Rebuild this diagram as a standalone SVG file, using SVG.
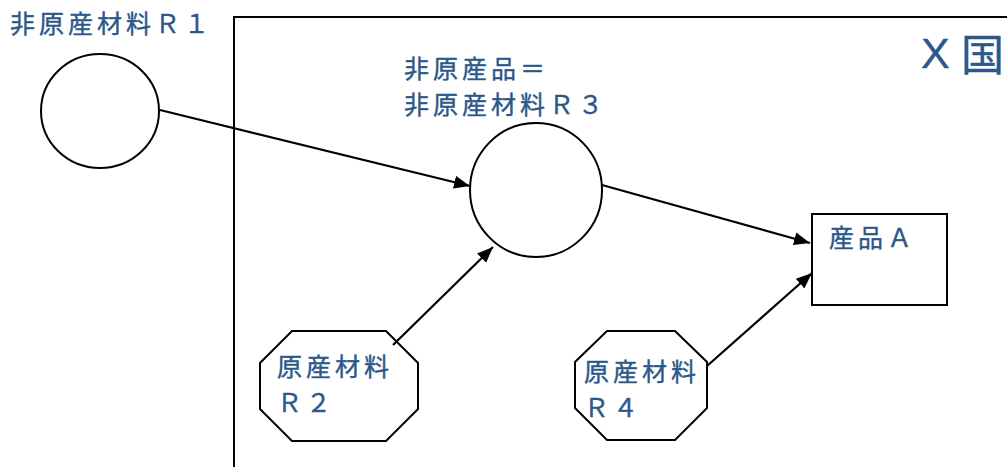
<svg xmlns="http://www.w3.org/2000/svg" width="1007" height="467" viewBox="0 0 1007 467">
<style>
.t{font-family:"Noto Sans CJK JP","Noto Sans CJK SC",sans-serif;fill:#2B5789;font-size:25px;letter-spacing:4px;stroke:#2B5789;stroke-width:0.4}
.s{fill:#fff;stroke:#000;stroke-width:2}
.c{stroke:#000;stroke-width:2.2;fill:none;marker-end:url(#ah)}
</style>
<defs>
<marker id="ah" viewBox="0 0 16 13" refX="16" refY="6.5" markerWidth="16" markerHeight="13" markerUnits="userSpaceOnUse" orient="auto">
<path d="M0,0 L16,6.5 L0,13 z" fill="#000"/>
</marker>
</defs>
<rect width="1007" height="467" fill="#fff"/>
<g id="country">
<path d="M234,467 V17 H1007" fill="none" stroke="#000" stroke-width="2"/>
<text class="t" x="921" y="68" style="font-size:43px;letter-spacing:0;font-family:'Liberation Sans',sans-serif">X</text>
<text class="t" x="961" y="71" style="font-size:43px;letter-spacing:0">国</text>
</g>
<g id="r1">
<ellipse class="s" cx="100" cy="111" rx="59" ry="57"/>
<text class="t" x="10" y="33">非原産材料Ｒ１</text>
</g>
<g id="r3">
<ellipse class="s" cx="536" cy="190" rx="66" ry="67"/>
<text class="t" x="404" y="78">非原産品＝</text>
<text class="t" x="404" y="114">非原産材料Ｒ３</text>
</g>
<g id="a">
<rect class="s" x="812" y="214" width="135" height="91"/>
<text class="t" x="829" y="247">産品Ａ</text>
</g>
<g id="r2">
<polygon class="s" points="292,331 386,331 418,363 418,409 386,441 292,441 260,409 260,363"/>
<text class="t" x="277" y="376">原産材料</text>
<text class="t" x="277" y="412">Ｒ２</text>
</g>
<g id="r4">
<polygon class="s" points="607,331 675,331 707,362 707,408 675,440 607,440 575,408 575,362"/>
<text class="t" x="584" y="381">原産材料</text>
<text class="t" x="584" y="417">Ｒ４</text>
</g>
<g id="connectors">
<line class="c" x1="160" y1="110" x2="470" y2="186"/>
<line class="c" x1="602" y1="185" x2="810" y2="243"/>
<line class="c" x1="393" y1="345" x2="493" y2="247"/>
<line class="c" x1="707" y1="366" x2="812" y2="273"/>
</g>
</svg>
